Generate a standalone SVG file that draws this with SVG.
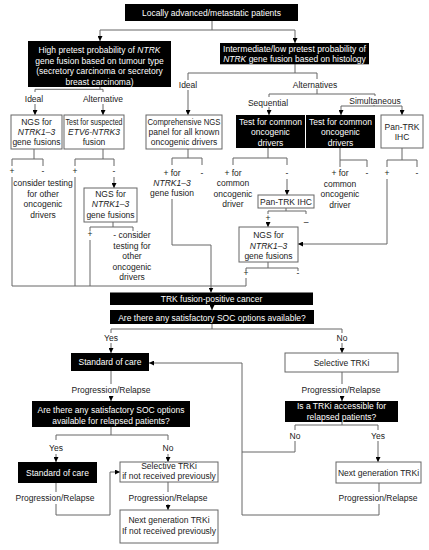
<svg xmlns="http://www.w3.org/2000/svg" width="429" height="550" viewBox="0 0 429 550">
<style>
.bb{fill:#000}
.wb{fill:#fff;stroke:#666;stroke-width:1}
text{font-family:"Liberation Sans",Arial,sans-serif;font-size:8.5px;text-anchor:middle}
.tw{fill:#fff}
.tk{fill:#222}
.ln{stroke:#666;stroke-width:1;fill:none}
.ar{marker-end:url(#ah)}
.it{font-style:italic}
</style>
<defs>
<marker id="ah" viewBox="0 0 6 6" refX="6" refY="3" markerWidth="5" markerHeight="5" orient="auto" markerUnits="userSpaceOnUse"><path d="M0,0 L6,3 L0,6 z" fill="#000"/></marker>
</defs>
<rect width="429" height="550" fill="#fff"/>
<g id="connectors" class="ln">
<path d="M212,21 V30 M100,30 H295"/>
<path class="ar" d="M100,30 V41"/>
<path class="ar" d="M295,30 V43"/>
<path d="M100,87 V89.3 M35,89.3 H103 M35,89.3 V92 M103,89.3 V92"/>
<path class="ar" d="M35,104 V115"/>
<path class="ar" d="M103,104 V115"/>
<path d="M295,64 V73 M188,73 H317 M188,73 V80 M317,73 V79 M317,89 V94 M269,94 H375 M269,94 V97 M375,94 V96 M374,105 V106 M341,106 H402"/>
<path class="ar" d="M188,90 V115"/>
<path class="ar" d="M269,107 V115"/>
<path class="ar" d="M341,106 V115"/>
<path class="ar" d="M402,106 V115"/>
<path d="M34,149 V159 M12,159 H43 M12,159 V166 M43,159 V166 M12,177 V286"/>
<path d="M103,149 V159 M75,159 H114 M75,159 V166 M114,159 V166 M75,177 V286"/>
<path class="ar" d="M114,177 V188"/>
<path d="M113,222 V227 M90,227 H133 M90,227 V231 M133,227 V231 M90,240 V286"/>
<path d="M188,149 V158 M172,158 H202 M172,158 V165 M202,158 V165"/>
<path class="ar" d="M172,199 V245 H211 V292.5"/>
<path d="M268,148 V158 M233,158 H287 M233,158 V165 M287,158 V165"/>
<path class="ar" d="M287,179 V195"/>
<path d="M286,208 V211 M268,211 H306 M268,211 V214 M306,211 V214"/>
<path class="ar" d="M268,222 V227"/>
<path d="M268,262 V268 M246,268 H298 M246,268 V271 M298,268 V271 M246,278 V286 H12"/>
<path d="M340,148 V167 M340,160 H367 V167"/>
<path d="M402,148 V160 M387,160 H417 M387,160 V167 M417,160 V167"/>
<path class="ar" d="M387,179 V244 H298"/>
<path class="ar" d="M212,305 V310"/>
<path d="M212,324 V329 M111,329 H342 M111,329 V333 M342,329 V333"/>
<path class="ar" d="M111,343 V353"/>
<path class="ar" d="M342,343 V353"/>
<path d="M111,371 V384 M342,372 V384"/>
<path class="ar" d="M111,396 V401"/>
<path class="ar" d="M342,396 V401"/>
<path d="M342,422 V425 M295,425 H378 M295,425 V430 M378,425 V430 M295,441 V452 H242"/>
<path class="ar" d="M378,441 V462"/>
<path d="M379,483 V492"/>
<path class="ar" d="M379,504 V515 H242 V363 H149"/>
<path d="M111,427 V435 M56,435 H168 M56,435 V440 M168,435 V440"/>
<path class="ar" d="M56,454 V462"/>
<path class="ar" d="M168,454 V462"/>
<path d="M56,483 V492 M168,482 V492"/>
<path class="ar" d="M56,504 V515 H110 V472 H120"/>
<path class="ar" d="M168,504 V510"/>
</g>
<g id="labels" class="tk">
<text class="tk" x="34" y="101.5">Ideal</text>
<text class="tk" x="103" y="101.5">Alternative</text>
<text class="tk" x="188" y="88">Ideal</text>
<text class="tk" x="315" y="88">Alternatives</text>
<text class="tk" x="268" y="105.5">Sequential</text>
<text class="tk" x="375" y="103.5">Simultaneous</text>
<text class="tk" x="12" y="174">+</text>
<text class="tk" x="43" y="174">-</text>
<text class="tk" x="43"><tspan x="43" y="186">consider testing</tspan><tspan x="43" y="196.7">for other</tspan><tspan x="43" y="207.4">oncogenic</tspan><tspan x="43" y="218">drivers</tspan></text>
<text class="tk" x="75" y="174">+</text>
<text class="tk" x="114" y="174">-</text>
<text class="tk" x="90" y="237">+</text>
<text class="tk" x="132"><tspan x="132" y="238">- consider</tspan><tspan x="132" y="248.5">testing for</tspan><tspan x="132" y="259">other</tspan><tspan x="132" y="269.5">oncogenic</tspan><tspan x="132" y="280">drivers</tspan></text>
<text class="tk" x="172"><tspan x="172" y="176">+ for</tspan><tspan x="172" y="186" class="it">NTRK1–3</tspan><tspan x="172" y="196">gene fusion</tspan></text>
<text class="tk" x="202" y="176">-</text>
<text class="tk" x="233"><tspan x="233" y="176">+ for</tspan><tspan x="233" y="186.3">common</tspan><tspan x="233" y="196.6">oncogenic</tspan><tspan x="233" y="207">driver</tspan></text>
<text class="tk" x="287" y="176">-</text>
<text class="tk" x="268" y="221">+</text>
<text class="tk" x="306" y="225">–</text>
<text class="tk" x="246" y="276">+</text>
<text class="tk" x="298" y="276">-</text>
<text class="tk" x="340"><tspan x="340" y="176">+ for</tspan><tspan x="340" y="186.5">common</tspan><tspan x="340" y="197">oncogenic</tspan><tspan x="340" y="207.5">driver</tspan></text>
<text class="tk" x="367" y="176">-</text>
<text class="tk" x="387" y="176">+</text>
<text class="tk" x="417" y="176">-</text>
<text class="tk" x="111" y="341">Yes</text>
<text class="tk" x="342" y="341">No</text>
<text class="tk" x="111" y="393">Progression/Relapse</text>
<text class="tk" x="341" y="393">Progression/Relapse</text>
<text class="tk" x="295" y="438.5">No</text>
<text class="tk" x="378" y="438.5">Yes</text>
<text class="tk" x="56" y="451">Yes</text>
<text class="tk" x="168" y="451">No</text>
<text class="tk" x="55" y="501">Progression/Relapse</text>
<text class="tk" x="168" y="501">Progression/Relapse</text>
<text class="tk" x="378" y="501">Progression/Relapse</text>
</g>
<g id="n-top"><rect class="bb" x="125" y="4" width="173" height="17"/><text class="tw" x="211.5" y="15.5">Locally advanced/metastatic patients</text></g>
<g id="n-high"><rect class="bb" x="28" y="41" width="143" height="46"/><text class="tw"><tspan x="99.5" y="53">High pretest probability of <tspan class="it">NTRK</tspan></tspan><tspan x="99.5" y="63.5">gene fusion based on tumour type</tspan><tspan x="99.5" y="74">(secretory carcinoma or secretory</tspan><tspan x="99.5" y="84.5">breast carcinoma)</tspan></text></g>
<g id="n-inter"><rect class="bb" x="220" y="43" width="149" height="21.3"/><text class="tw"><tspan x="294.5" y="51.5" textLength="143" lengthAdjust="spacingAndGlyphs">Intermediate/low pretest probability of</tspan><tspan x="294.5" y="62"><tspan class="it">NTRK</tspan> gene fusion based on histology</tspan></text></g>
<g id="n-ngs1"><rect class="wb" x="11" y="115" width="51" height="34"/><text class="tk"><tspan x="36.5" y="124.5">NGS for</tspan><tspan x="36.5" y="134.5" class="it">NTRK1–3</tspan><tspan x="36.5" y="144.5">gene fusions</tspan></text></g>
<g id="n-etv6"><rect class="wb" x="64" y="115" width="60" height="34"/><text class="tk"><tspan x="94" y="124.5" textLength="57" lengthAdjust="spacingAndGlyphs">Test for suspected</tspan><tspan x="94" y="134.5" class="it">ETV6-NTRK3</tspan><tspan x="94" y="144.5">fusion</tspan></text></g>
<g id="n-comp"><rect class="wb" x="146" y="115" width="76" height="34"/><text class="tk"><tspan x="184" y="124.5" textLength="73" lengthAdjust="spacingAndGlyphs">Comprehensive NGS</tspan><tspan x="184" y="134.5">panel for all known</tspan><tspan x="184" y="144.5">oncogenic drivers</tspan></text></g>
<g id="n-tcd1"><rect class="bb" x="236" y="115" width="69" height="33"/><text class="tw"><tspan x="270.5" y="124.5">Test for common</tspan><tspan x="270.5" y="135">oncogenic</tspan><tspan x="270.5" y="145.5">drivers</tspan></text></g>
<g id="n-tcd2"><rect class="bb" x="306" y="115" width="69" height="33"/><text class="tw"><tspan x="340.5" y="124.5">Test for common</tspan><tspan x="340.5" y="135">oncogenic</tspan><tspan x="340.5" y="145.5">drivers</tspan></text></g>
<g id="n-ihc1"><rect class="wb" x="381" y="115" width="42" height="33"/><text class="tk"><tspan x="402" y="129.5">Pan-TRK</tspan><tspan x="402" y="140">IHC</tspan></text></g>
<g id="n-ngs2"><rect class="wb" x="84" y="188" width="53" height="34"/><text class="tk"><tspan x="110.5" y="196.5">NGS for</tspan><tspan x="110.5" y="207" class="it">NTRK1–3</tspan><tspan x="110.5" y="218">gene fusions</tspan></text></g>
<g id="n-ihc2"><rect class="wb" x="258" y="195" width="56" height="13"/><text class="tk" x="286" y="204.8">Pan-TRK IHC</text></g>
<g id="n-ngs3"><rect class="wb" x="239" y="227" width="59" height="35"/><text class="tk"><tspan x="268.5" y="238">NGS for</tspan><tspan x="268.5" y="248.5" class="it">NTRK1–3</tspan><tspan x="268.5" y="259">gene fusions</tspan></text></g>
<g id="n-trk"><rect class="bb" x="110" y="292.5" width="203" height="12.5"/><text class="tw" x="211.5" y="302">TRK fusion-positive cancer</text></g>
<g id="n-soc"><rect class="bb" x="110" y="310" width="204" height="14"/><text class="tw" x="212" y="320.5">Are there any satisfactory SOC options available?</text></g>
<g id="n-std1"><rect class="bb" x="71" y="353" width="78" height="18"/><text class="tw" x="110" y="365">Standard of care</text></g>
<g id="n-sel1"><rect class="wb" x="285" y="353" width="113" height="19"/><text class="tk" x="341.5" y="365.5">Selective TRKi</text></g>
<g id="n-soc2"><rect class="bb" x="32" y="401" width="158" height="26"/><text class="tw"><tspan x="111" y="413">Are there any satisfactory SOC options</tspan><tspan x="111" y="424">available for relapsed patients?</tspan></text></g>
<g id="n-acc"><rect class="bb" x="285" y="401" width="113" height="21"/><text class="tw"><tspan x="341.5" y="408.5">Is a TRKi accessible for</tspan><tspan x="341.5" y="419.5">relapsed patients?</tspan></text></g>
<g id="n-std2"><rect class="bb" x="18" y="462" width="79" height="21"/><text class="tw" x="57.5" y="475.5">Standard of care</text></g>
<g id="n-sel2"><rect class="wb" x="120" y="462" width="98" height="20"/><text class="tk"><tspan x="169" y="468.5">Selective TRKi</tspan><tspan x="169" y="479">if not received previously</tspan></text></g>
<g id="n-next1"><rect class="wb" x="336" y="462" width="85" height="21"/><text class="tk" x="378.5" y="475.5">Next generation TRKi</text></g>
<g id="n-next2"><rect class="wb" x="120" y="510" width="98" height="33"/><text class="tk"><tspan x="169" y="523">Next generation TRKi</tspan><tspan x="169" y="533.5">If not received previously</tspan></text></g>
</svg>
